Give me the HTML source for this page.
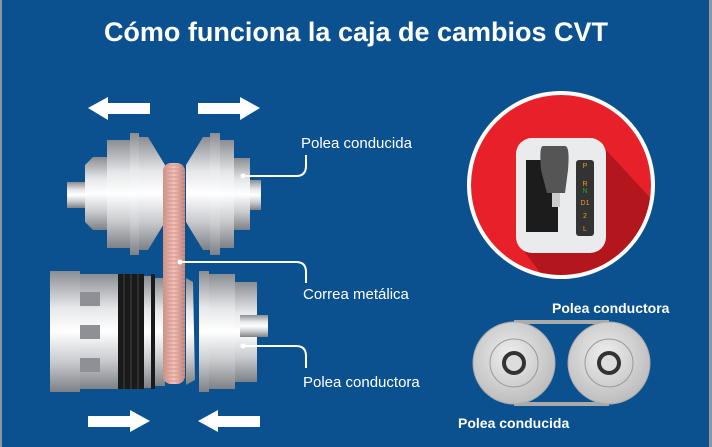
<!DOCTYPE html>
<html><head><style>
html,body{margin:0;padding:0;width:712px;height:447px;overflow:hidden;background:#0b5190;}
svg{display:block}
text{font-family:"Liberation Sans",sans-serif;fill:#fff}
</style></head><body>
<svg width="712" height="447" viewBox="0 0 712 447">
<defs>
<linearGradient id="m" x1="0" y1="0" x2="0" y2="1">
<stop offset="0" stop-color="#8a8d92"/><stop offset="0.3" stop-color="#e6e7e9"/><stop offset="0.5" stop-color="#ffffff"/><stop offset="0.75" stop-color="#c9cbce"/><stop offset="1" stop-color="#7d8085"/></linearGradient>
<linearGradient id="b" x1="0" y1="0" x2="1" y2="0">
<stop offset="0" stop-color="#c98f85"/><stop offset="0.5" stop-color="#f2c3bb"/><stop offset="1" stop-color="#b97f76"/></linearGradient>
<pattern id="rib" width="4" height="4" patternUnits="userSpaceOnUse"><rect width="4" height="2" fill="#d99a90" opacity=".6"/></pattern>
<radialGradient id="p" cx=".45" cy=".4" r=".6"><stop offset="0" stop-color="#eeeeee"/><stop offset="1" stop-color="#bdbdbd"/></radialGradient>
</defs>
<rect x="0" y="0" width="712" height="447" fill="#0b5190"/>
<rect x="0" y="0" width="2" height="447" fill="#8c97a3"/>
<rect x="709" y="0" width="3" height="447" fill="#8c97a3"/>
<text x="356" y="41" font-size="27" font-weight="bold" text-anchor="middle">Cómo funciona la caja de cambios CVT</text>

<!-- arrows -->
<g fill="#fff">
<polygon points="88,108 108,97 108,103 150,103 150,114 108,114 108,120"/>
<polygon points="260,108 240,97 240,103 198,103 198,114 240,114 240,120"/>
<polygon points="150,421 130,410 130,416 88,416 88,427 130,427 130,432"/>
<polygon points="198,421 218,410 218,416 260,416 260,427 218,427 218,432"/>
</g>

<!-- upper pulley -->
<rect x="67" y="182" width="18" height="26" fill="url(#m)"/>
<polygon points="85,165 93,157 107,157 107,230 93,230 85,222" fill="url(#m)"/>
<rect x="107" y="140" width="30" height="108" fill="url(#m)"/>
<rect x="130" y="133" width="9" height="122" fill="url(#m)"/>
<polygon points="139,137 148,137 165,165 165,222 148,250 139,250" fill="url(#m)"/>
<polygon points="186,165 203,137 210,137 210,250 203,250 186,222" fill="url(#m)"/>
<rect x="210" y="133" width="10" height="122" fill="url(#m)"/>
<rect x="220" y="140" width="14" height="108" fill="url(#m)"/>
<rect x="234" y="158" width="16" height="72" fill="url(#m)"/>
<rect x="250" y="180" width="11" height="30" fill="url(#m)"/>

<!-- lower pulley -->
<rect x="50" y="271" width="30" height="121" fill="url(#m)"/>
<rect x="80" y="274" width="38" height="115" fill="url(#m)"/>
<rect x="80" y="292" width="20" height="14" fill="#8e9095"/>
<rect x="80" y="325" width="20" height="14" fill="#8e9095"/>
<rect x="80" y="358" width="20" height="14" fill="#8e9095"/>
<rect x="118" y="274" width="26" height="115" fill="#1a1a1a"/>
<line x1="124" y1="274" x2="124" y2="389" stroke="#444"/><line x1="131" y1="274" x2="131" y2="389" stroke="#444"/><line x1="138" y1="274" x2="138" y2="389" stroke="#444"/>
<rect x="144" y="276" width="8" height="112" fill="url(#m)"/>
<rect x="151" y="274" width="4" height="115" fill="#1a1a1a"/>
<rect x="155" y="278" width="10" height="108" fill="url(#m)"/>
<polygon points="186,278 193,282 195,380 186,385" fill="url(#m)"/>
<rect x="199" y="271" width="10" height="121" fill="url(#m)"/>
<rect x="209" y="274" width="26" height="115" fill="url(#m)"/>
<rect x="235" y="282" width="22" height="100" fill="url(#m)"/>
<rect x="240" y="315" width="28" height="22" fill="url(#m)"/>

<!-- belt -->
<rect x="163" y="163" width="22" height="221" rx="8" fill="url(#b)"/>
<rect x="163" y="163" width="22" height="221" rx="8" fill="url(#rib)"/>

<!-- leaders -->
<g stroke="#fff" stroke-width="2" fill="none">
<path d="M243,176 H296 Q306,176 306,166 V155"/>
<path d="M180,262 H296 Q306,262 306,272 V283"/>
<path d="M243,346 H296 Q306,346 306,356 V368"/>
</g>
<circle cx="243" cy="176" r="2.5" fill="#fff"/><circle cx="180" cy="262" r="2.5" fill="#fff"/><circle cx="243" cy="346" r="2.5" fill="#fff"/>
<text x="301" y="148" font-size="15">Polea conducida</text>
<text x="303" y="299" font-size="15">Correa metálica</text>
<text x="303" y="387" font-size="15">Polea conductora</text>

<!-- red circle -->
<circle cx="561" cy="185" r="94" fill="#fff"/>
<circle cx="561" cy="185" r="90" fill="#e8202a"/>
<clipPath id="cc"><circle cx="561" cy="185" r="90"/></clipPath>
<polygon clip-path="url(#cc)" points="606,150 680,230 680,300 560,300 516,240" fill="#b3161d"/>
<rect x="516" y="138" width="90" height="115" rx="16" fill="#e9ebec"/>
<rect x="526" y="160" width="32" height="72" fill="#1c1c1c"/>
<path d="M543,146 H565 Q570,146 568,170 L565,193 H547 L541,170 Q539,146 543,146Z" fill="#555"/>
<rect x="552" y="193" width="8" height="14" fill="#ccc"/>
<rect x="576" y="160" width="18" height="76" rx="3" fill="#333"/>
<g font-size="7" text-anchor="middle" style="fill:#f29a1e"><text x="585" y="168" style="fill:#f29a1e">P</text><text x="585" y="186" style="fill:#f29a1e">R</text><text x="585" y="193" style="fill:#2aa12e">N</text><text x="585" y="205" style="fill:#f29a1e">D1</text><text x="585" y="218" style="fill:#f29a1e">2</text><text x="585" y="231" style="fill:#f29a1e">L</text></g>

<!-- bottom pulleys -->
<text x="552" y="313" font-size="14" font-weight="bold">Polea conductora</text>
<path d="M514,322 L609,322 M514,404 L609,404" stroke="#aaa" stroke-width="4"/>
<circle cx="514" cy="363" r="41" fill="url(#p)" stroke="#aaa"/>
<circle cx="514" cy="363" r="24" fill="none" stroke="#999"/>
<circle cx="514" cy="363" r="12" fill="#333"/><circle cx="514" cy="363" r="8" fill="#ddd"/>
<circle cx="609" cy="363" r="41" fill="url(#p)" stroke="#aaa"/>
<circle cx="609" cy="363" r="24" fill="none" stroke="#999"/>
<circle cx="609" cy="363" r="12" fill="#333"/><circle cx="609" cy="363" r="8" fill="#ddd"/>
<text x="458" y="428" font-size="14" font-weight="bold">Polea conducida</text>
</svg>
</body></html>
